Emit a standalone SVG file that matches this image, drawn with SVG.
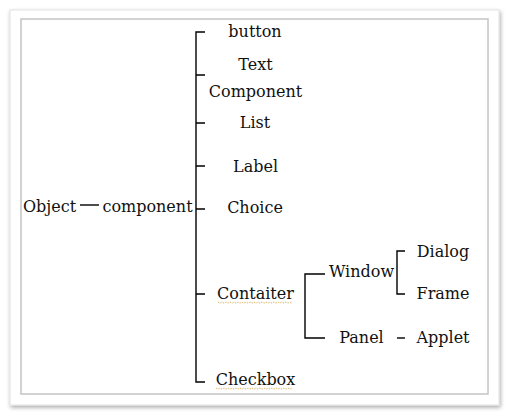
<svg xmlns="http://www.w3.org/2000/svg" width="509" height="415" viewBox="0 0 509 415">
<style>
text{font-family:"DejaVu Serif","Liberation Serif",serif;font-size:16px;fill:#111;text-anchor:middle}
.ln{stroke:#000;stroke-width:1.4;fill:none}
.sq{stroke:#d4a84a;stroke-width:1;fill:none;stroke-dasharray:1 1}
</style>
<defs>
<filter id="sh" x="-5%" y="-5%" width="110%" height="110%">
<feGaussianBlur in="SourceAlpha" stdDeviation="2"/>
<feOffset dx="1" dy="2"/>
<feComponentTransfer><feFuncA type="linear" slope="0.35"/></feComponentTransfer>
<feMerge><feMergeNode/><feMergeNode in="SourceGraphic"/></feMerge>
</filter>
</defs>
<rect width="509" height="415" fill="#fff"/>
<rect x="10" y="10" width="489" height="395" fill="#fff" stroke="#e2e2e2" filter="url(#sh)"/>
<rect x="21" y="19" width="467" height="375" fill="#fff" stroke="#c4c4c4" stroke-width="1.5"/>
<g id="connectors">
<path class="ln" d="M205,32 H196 V382 H205"/>
<path class="ln" d="M196,75 H205 M196,123 H205 M196,166 H205 M196,209 H205 M196,294 H205"/>
<path class="ln" d="M80,205 H99"/>
<path class="ln" d="M325,274 H305 V338 H325"/>
<path class="ln" d="M405,251 H397 V294 H405"/>
<path class="ln" d="M397,338 H405"/>
</g>
<g id="object"><text x="49.5" y="212">Object</text></g>
<g id="component"><text x="147.5" y="212">component</text></g>
<g id="button"><text x="255" y="37">button</text></g>
<g id="textcomponent"><text x="255.5" y="70">Text</text><text x="255.5" y="97">Component</text></g>
<g id="list"><text x="255" y="128">List</text></g>
<g id="label"><text x="255.5" y="172">Label</text></g>
<g id="choice"><text x="255" y="213">Choice</text></g>
<g id="contaiter"><text x="255.5" y="299">Contaiter</text><path class="sq" d="M218,302 l2,1.2 2,-1.2 2,1.2 2,-1.2 2,1.2 2,-1.2 2,1.2 2,-1.2 2,1.2 2,-1.2 2,1.2 2,-1.2 2,1.2 2,-1.2 2,1.2 2,-1.2 2,1.2 2,-1.2 2,1.2 2,-1.2 2,1.2 2,-1.2 2,1.2 2,-1.2 2,1.2 2,-1.2 2,1.2 2,-1.2 2,1.2 2,-1.2 2,1.2 2,-1.2 2,1.2 2,-1.2 2,1.2 2,-1.2 2,1.2"/></g>
<g id="checkbox"><text x="255.5" y="385">Checkbox</text><path class="sq" d="M216,388 l2,1.2 2,-1.2 2,1.2 2,-1.2 2,1.2 2,-1.2 2,1.2 2,-1.2 2,1.2 2,-1.2 2,1.2 2,-1.2 2,1.2 2,-1.2 2,1.2 2,-1.2 2,1.2 2,-1.2 2,1.2 2,-1.2 2,1.2 2,-1.2 2,1.2 2,-1.2 2,1.2 2,-1.2 2,1.2 2,-1.2 2,1.2 2,-1.2 2,1.2 2,-1.2 2,1.2 2,-1.2 2,1.2 2,-1.2 2,1.2 2,-1.2"/></g>
<g id="window"><text x="361.5" y="277">Window</text></g>
<g id="panel"><text x="361.5" y="343">Panel</text></g>
<g id="dialog"><text x="443" y="257">Dialog</text></g>
<g id="frame"><text x="443" y="299">Frame</text></g>
<g id="applet"><text x="443" y="343">Applet</text></g>
</svg>
